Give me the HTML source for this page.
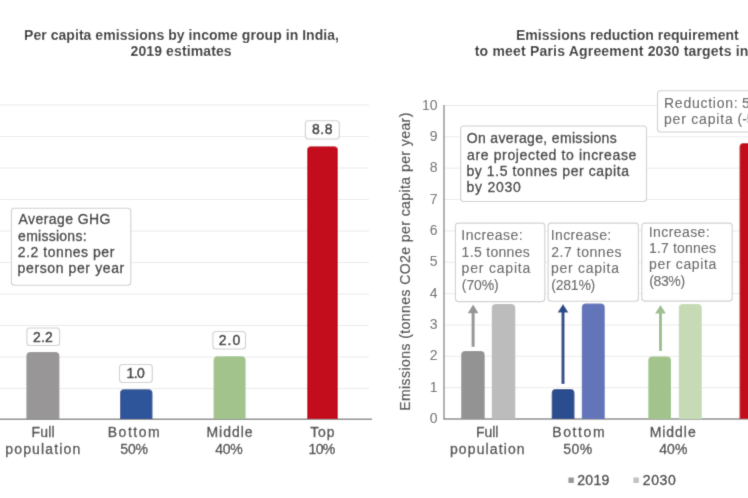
<!DOCTYPE html>
<html><head><meta charset="utf-8"><title>India emissions</title>
<style>
html,body{margin:0;padding:0;background:#fff;width:748px;height:498px;overflow:hidden}
svg{display:block;will-change:transform}
text{font-family:"Liberation Sans",Arial,sans-serif}
.title{font-size:14px;font-weight:bold;fill:#333}
.val{font-size:14px;fill:#333;stroke:#333;stroke-width:0.45px}
.box{font-size:14px;fill:#333;stroke:#333;stroke-width:0.3px}
.box2{font-size:14px;fill:#5c5c5c;stroke:#5c5c5c;stroke-width:0.1px}
.xl{font-size:14px;fill:#474747;stroke:#474747;stroke-width:0.3px}
.tick{font-size:14px;fill:#666}
.ytitle{font-size:14px;fill:#444;stroke:#444;stroke-width:0.2px;letter-spacing:0.43px}
.leg{font-size:14px;fill:#3d3d3d;stroke:#3d3d3d;stroke-width:0.35px}
</style></head><body>
<svg width="748" height="498" viewBox="0 0 748 498">
<defs><filter id="soft" x="0" y="0" width="748" height="498" filterUnits="userSpaceOnUse"><feConvolveMatrix order="3" kernelMatrix="1 6.0 1 6.0 36.0 6.0 1 6.0 1" edgeMode="duplicate" preserveAlpha="true"/></filter></defs>
<g filter="url(#soft)">
<rect width="748" height="498" fill="#fff"/>
<line x1="0" x2="369" y1="105.0" y2="105.0" stroke="#ebebeb" stroke-width="1"/>
<line x1="0" x2="369" y1="136.5" y2="136.5" stroke="#ebebeb" stroke-width="1"/>
<line x1="0" x2="369" y1="168.0" y2="168.0" stroke="#ebebeb" stroke-width="1"/>
<line x1="0" x2="369" y1="199.5" y2="199.5" stroke="#ebebeb" stroke-width="1"/>
<line x1="0" x2="369" y1="231.0" y2="231.0" stroke="#ebebeb" stroke-width="1"/>
<line x1="0" x2="369" y1="262.5" y2="262.5" stroke="#ebebeb" stroke-width="1"/>
<line x1="0" x2="369" y1="294.0" y2="294.0" stroke="#ebebeb" stroke-width="1"/>
<line x1="0" x2="369" y1="325.5" y2="325.5" stroke="#ebebeb" stroke-width="1"/>
<line x1="0" x2="369" y1="357.0" y2="357.0" stroke="#ebebeb" stroke-width="1"/>
<line x1="0" x2="369" y1="388.5" y2="388.5" stroke="#ebebeb" stroke-width="1"/>
<line x1="0" x2="372" y1="419.3" y2="419.3" stroke="#8a8a8a" stroke-width="1.4"/>
<text class="title" x="24.00" y="39.5" textLength="315.00" lengthAdjust="spacing">Per capita emissions by income group in India,</text>
<text class="title" x="130.50" y="56" textLength="101.14" lengthAdjust="spacing">2019 estimates</text>
<path d="M26.4,419 L26.4,356.2 Q26.4,352 30.599999999999998,352 L55.199999999999996,352 Q59.4,352 59.4,356.2 L59.4,419 Z" fill="#989696"/>
<path d="M120,419 L120,393.5 Q120,389.3 124.2,389.3 L148.3,389.3 Q152.5,389.3 152.5,393.5 L152.5,419 Z" fill="#2d5599"/>
<path d="M213.6,419 L213.6,360.4 Q213.6,356.2 217.79999999999998,356.2 L241.4,356.2 Q245.6,356.2 245.6,360.4 L245.6,419 Z" fill="#a2c48c"/>
<path d="M307,419 L307,150.39999999999998 Q307,146.2 311.2,146.2 L333.8,146.2 Q338,146.2 338,150.39999999999998 L338,419 Z" fill="#c30f1f"/>
<rect x="26.9" y="328" width="32.7" height="17.5" rx="3" fill="#fff" stroke="#d0d0d0" stroke-width="1.1"/>
<text class="val" x="32.95" y="341.7" textLength="19.87" lengthAdjust="spacing">2.2</text>
<rect x="119.5" y="364.5" width="32.8" height="18.0" rx="3" fill="#fff" stroke="#d0d0d0" stroke-width="1.1"/>
<text class="val" x="126.60" y="378" textLength="18.17" lengthAdjust="spacing">1.0</text>
<rect x="212.9" y="331.5" width="32.6" height="17.5" rx="3" fill="#fff" stroke="#d0d0d0" stroke-width="1.1"/>
<text class="val" x="218.65" y="344.7" textLength="21.62" lengthAdjust="spacing">2.0</text>
<rect x="305.4" y="120.8" width="33.9" height="18.2" rx="3" fill="#fff" stroke="#d0d0d0" stroke-width="1.1"/>
<text class="val" x="312.10" y="134" textLength="20.37" lengthAdjust="spacing">8.8</text>
<rect x="11.4" y="208.2" width="119.4" height="77.0" rx="3" fill="#fff" stroke="#d0d0d0" stroke-width="1.1"/>
<text class="box" x="18.60" y="224.4" textLength="91.82" lengthAdjust="spacing">Average GHG</text>
<text class="box" x="18.10" y="240.65" textLength="68.44" lengthAdjust="spacing">emissions:</text>
<text class="box" x="17.85" y="256.9" textLength="96.52" lengthAdjust="spacing">2.2 tonnes per</text>
<text class="box" x="17.60" y="273.15" textLength="106.61" lengthAdjust="spacing">person per year</text>
<text class="xl" x="31.50" y="436.8" textLength="23.06" lengthAdjust="spacing">Full</text>
<text class="xl" x="5.25" y="453.8" textLength="75.12" lengthAdjust="spacing">population</text>
<text class="xl" x="107.75" y="436.8" textLength="51.86" lengthAdjust="spacing">Bottom</text>
<text class="xl" x="120.25" y="453.8" textLength="27.78" lengthAdjust="spacing">50%</text>
<text class="xl" x="206.40" y="436.8" textLength="46.20" lengthAdjust="spacing">Middle</text>
<text class="xl" x="215.25" y="453.8" textLength="27.48" lengthAdjust="spacing">40%</text>
<text class="xl" x="310.25" y="436.8" textLength="24.33" lengthAdjust="spacing">Top</text>
<text class="xl" x="308.50" y="453.8" textLength="26.73" lengthAdjust="spacing">10%</text>
<text class="title" x="516.00" y="39.5" textLength="222.75" lengthAdjust="spacing">Emissions reduction requirement</text>
<text class="title" x="474.75" y="56" textLength="273.62" lengthAdjust="spacing">to meet Paris Agreement 2030 targets in</text>
<line x1="444" x2="748" y1="387.6" y2="387.6" stroke="#ebebeb" stroke-width="1"/>
<line x1="444" x2="748" y1="356.3" y2="356.3" stroke="#ebebeb" stroke-width="1"/>
<line x1="444" x2="748" y1="324.9" y2="324.9" stroke="#ebebeb" stroke-width="1"/>
<line x1="444" x2="748" y1="293.6" y2="293.6" stroke="#ebebeb" stroke-width="1"/>
<line x1="444" x2="748" y1="262.2" y2="262.2" stroke="#ebebeb" stroke-width="1"/>
<line x1="444" x2="748" y1="230.9" y2="230.9" stroke="#ebebeb" stroke-width="1"/>
<line x1="444" x2="748" y1="199.5" y2="199.5" stroke="#ebebeb" stroke-width="1"/>
<line x1="444" x2="748" y1="168.2" y2="168.2" stroke="#ebebeb" stroke-width="1"/>
<line x1="444" x2="748" y1="136.8" y2="136.8" stroke="#ebebeb" stroke-width="1"/>
<line x1="444" x2="748" y1="105.5" y2="105.5" stroke="#ebebeb" stroke-width="1"/>
<text class="tick" x="437.6" y="423.1" text-anchor="end">0</text>
<text class="tick" x="437.6" y="391.8" text-anchor="end">1</text>
<text class="tick" x="437.6" y="360.4" text-anchor="end">2</text>
<text class="tick" x="437.6" y="329.1" text-anchor="end">3</text>
<text class="tick" x="437.6" y="297.7" text-anchor="end">4</text>
<text class="tick" x="437.6" y="266.4" text-anchor="end">5</text>
<text class="tick" x="437.6" y="235.0" text-anchor="end">6</text>
<text class="tick" x="437.6" y="203.6" text-anchor="end">7</text>
<text class="tick" x="437.6" y="172.3" text-anchor="end">8</text>
<text class="tick" x="437.6" y="140.9" text-anchor="end">9</text>
<text class="tick" x="437.6" y="109.6" text-anchor="end">10</text>
<line x1="444" x2="444" y1="105" y2="419.0" stroke="#8a8a8a" stroke-width="1.4"/>
<line x1="443.3" x2="748" y1="419.0" y2="419.0" stroke="#8a8a8a" stroke-width="1.4"/>
<text class="ytitle" transform="translate(409.6,261.5) rotate(-90)" text-anchor="middle">Emissions (tonnes CO2e per capita per year)</text>
<path d="M461.2,419.0 L461.2,355.3 Q461.2,351.1 465.4,351.1 L480.5,351.1 Q484.7,351.1 484.7,355.3 L484.7,419.0 Z" fill="#949393"/>
<path d="M491.8,419.0 L491.8,308.2 Q491.8,304 496.0,304 L511.09999999999997,304 Q515.3,304 515.3,308.2 L515.3,419.0 Z" fill="#bdbcbc"/>
<path d="M551.7,419.0 L551.7,393.2 Q551.7,389 555.9000000000001,389 L570.3,389 Q574.5,389 574.5,393.2 L574.5,419.0 Z" fill="#2a4d8f"/>
<path d="M581.8,419.0 L581.8,307.8 Q581.8,303.6 586.0,303.6 L600.5999999999999,303.6 Q604.8,303.6 604.8,307.8 L604.8,419.0 Z" fill="#6375b9"/>
<path d="M648.3,419.0 L648.3,360.59999999999997 Q648.3,356.4 652.5,356.4 L666.8,356.4 Q671,356.4 671,360.59999999999997 L671,419.0 Z" fill="#a2c48c"/>
<path d="M678.8,419.0 L678.8,308.2 Q678.8,304 683.0,304 L697.5999999999999,304 Q701.8,304 701.8,308.2 L701.8,419.0 Z" fill="#c6dbb5"/>
<path d="M739.5,419.0 L739.5,147.2 Q739.5,143 743.7,143 L747.8,143 Q752,143 752,147.2 L752,419.0 Z" fill="#c30f1f"/>
<line x1="473.1" x2="473.1" y1="346.8" y2="310.6" stroke="#959595" stroke-width="3"/>
<path d="M467.70000000000005,313.20000000000005 L473.1,304.6 L478.5,313.20000000000005 Z" fill="#959595"/>
<line x1="563" x2="563" y1="384" y2="310" stroke="#284887" stroke-width="3"/>
<path d="M557.6,312.6 L563,304 L568.4,312.6 Z" fill="#284887"/>
<line x1="660.5" x2="660.5" y1="351" y2="311" stroke="#9fbf8e" stroke-width="3"/>
<path d="M655.1,313.6 L660.5,305 L665.9,313.6 Z" fill="#9fbf8e"/>
<rect x="460.7" y="126" width="185.8" height="75.5" rx="3" fill="#fff" stroke="#d0d0d0" stroke-width="1.1"/>
<text class="box" x="466.75" y="143.1" textLength="149.99" lengthAdjust="spacing">On average, emissions</text>
<text class="box" x="467.00" y="159.5" textLength="169.39" lengthAdjust="spacing">are projected to increase</text>
<text class="box" x="466.50" y="175.89999999999998" textLength="162.44" lengthAdjust="spacing">by 1.5 tonnes per capita</text>
<text class="box" x="466.50" y="192.29999999999998" textLength="54.28" lengthAdjust="spacing">by 2030</text>
<rect x="455.4" y="223.1" width="89.4" height="78.5" rx="3" fill="#fff" stroke="#d0d0d0" stroke-width="1.1"/>
<text class="box2" x="461.35" y="240.3" textLength="61.29" lengthAdjust="spacing">Increase:</text>
<text class="box2" x="461.60" y="256.7" textLength="68.19" lengthAdjust="spacing">1.5 tonnes</text>
<text class="box2" x="461.60" y="273.1" textLength="68.68" lengthAdjust="spacing">per capita</text>
<text class="box2" x="461.85" y="289.5" textLength="36.81" lengthAdjust="spacing">(70%)</text>
<rect x="548.1" y="223.1" width="90.3" height="78.2" rx="3" fill="#fff" stroke="#d0d0d0" stroke-width="1.1"/>
<text class="box2" x="550.75" y="240.3" textLength="60.49" lengthAdjust="spacing">Increase:</text>
<text class="box2" x="551.25" y="256.7" textLength="70.24" lengthAdjust="spacing">2.7 tonnes</text>
<text class="box2" x="551.00" y="273.1" textLength="67.98" lengthAdjust="spacing">per capita</text>
<text class="box2" x="551.25" y="289.5" textLength="44.04" lengthAdjust="spacing">(281%)</text>
<rect x="641.8" y="223.1" width="90.4" height="78.0" rx="3" fill="#fff" stroke="#d0d0d0" stroke-width="1.1"/>
<text class="box2" x="648.75" y="236.6" textLength="60.89" lengthAdjust="spacing">Increase:</text>
<text class="box2" x="649.00" y="253.03" textLength="66.99" lengthAdjust="spacing">1.7 tonnes</text>
<text class="box2" x="649.00" y="269.46" textLength="67.38" lengthAdjust="spacing">per capita</text>
<text class="box2" x="649.25" y="285.89" textLength="35.81" lengthAdjust="spacing">(83%)</text>
<rect x="657.5" y="90.7" width="112.5" height="41.3" rx="3" fill="#fff" stroke="#d0d0d0" stroke-width="1.1"/>
<text class="box2" x="664.00" y="107.6" textLength="73.69" lengthAdjust="spacing">Reduction:</text>
<text class="box2" x="741.95" y="107.6">5.9 tonnes</text>
<text class="box2" x="664.00" y="124" textLength="68.68" lengthAdjust="spacing">per capita</text>
<text class="box2" x="737.55" y="124">(-59%)</text>
<text class="xl" x="475.90" y="436.6" textLength="22.41" lengthAdjust="spacing">Full</text>
<text class="xl" x="449.90" y="453.7" textLength="74.77" lengthAdjust="spacing">population</text>
<text class="xl" x="552.20" y="436.6" textLength="52.46" lengthAdjust="spacing">Bottom</text>
<text class="xl" x="563.25" y="453.7" textLength="28.98" lengthAdjust="spacing">50%</text>
<text class="xl" x="649.70" y="436.6" textLength="46.00" lengthAdjust="spacing">Middle</text>
<text class="xl" x="659.35" y="453.7" textLength="27.98" lengthAdjust="spacing">40%</text>
<rect x="568.4" y="477.5" width="5.5" height="5.5" fill="#999"/>
<text class="leg" x="577.25" y="484.5" textLength="32.01" lengthAdjust="spacing">2019</text>
<rect x="633.4" y="477.5" width="5.5" height="5.5" fill="#c2c2c2"/>
<text class="leg" x="642.75" y="484.5" textLength="32.96" lengthAdjust="spacing">2030</text>
</g>
</svg>
</body></html>
